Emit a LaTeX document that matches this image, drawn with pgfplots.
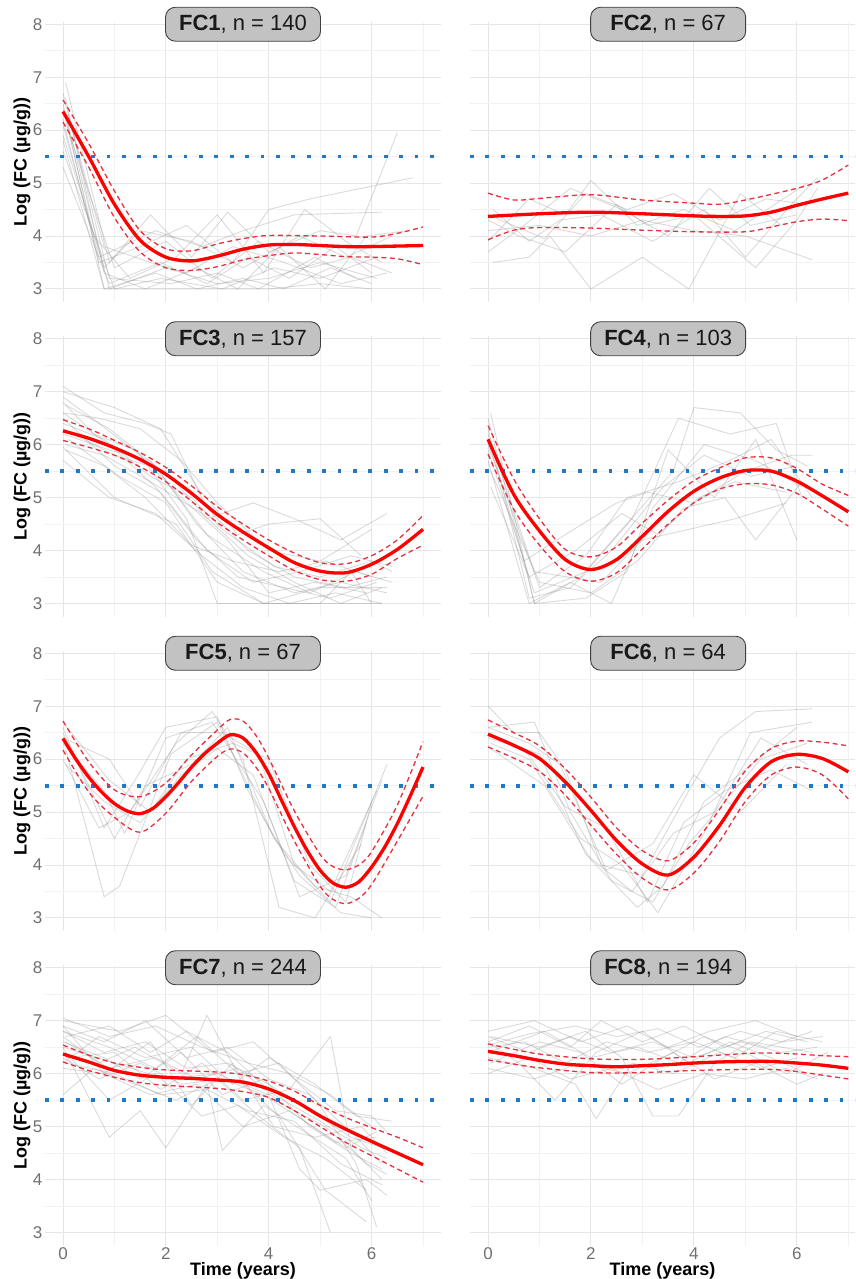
\documentclass[border=0pt]{standalone}
\usepackage{pgfplots}
\pgfplotsset{compat=1.18}
\usepackage{fontspec}
\setmainfont{Liberation Sans}
\definecolor{gridmaj}{HTML}{E6E6E6}
\definecolor{gridmin}{HTML}{F2F2F2}
\definecolor{tickgray}{HTML}{707070}
\definecolor{fcblue}{HTML}{1F78C8}
\definecolor{cired}{HTML}{E8303F}
\definecolor{boxgray}{HTML}{C2C2C2}
\definecolor{linegray}{HTML}{8C8C8C}
\tikzset{titlebox/.style={draw=black!75, line width=0.9pt, fill=boxgray, rounded corners=10pt,
  minimum width=155pt, minimum height=34pt, inner sep=0pt, font=\fontsize{22}{26}\selectfont, text=black!90}}
\pgfplotsset{
 panel/.style={scale only axis, width=396pt, height=280.6pt,
   xmin=-0.35, xmax=7.35, ymin=2.75, ymax=8.05,
   axis line style={draw=none}, tick style={draw=none},
   xtick={0,2,4,6}, ytick={3,4,5,6,7,8},
   minor xtick={1,3,5,7}, minor ytick={3.5,4.5,5.5,6.5,7.5},
   grid=both, major grid style={color=gridmaj, line width=1pt},
   minor grid style={color=gridmin, line width=0.7pt},
   clip mode=individual,
   /pgf/number format/assume math mode=true,
   ticklabel style={font=\fontsize{17}{20}\selectfont, text=tickgray},
   yticklabel style={anchor=east, inner sep=0pt, xshift=-2.5pt},
   xticklabel style={anchor=base, inner sep=0pt, yshift=-13.8pt},
   xlabel style={at={(axis description cs:0.5,0)}, anchor=base, yshift=-30.2pt, inner sep=0pt,
     font=\bfseries\fontsize{18}{21}\selectfont},
   ylabel style={at={(axis description cs:-0.058,0.5)}, anchor=center, inner sep=0pt,
     font=\bfseries\fontsize{18}{21}\selectfont},
 },
 rightcol/.style={width=385pt, xmax=7.13, yticklabels={}},
 gl/.style={color=linegray, draw opacity=0.32, line width=0.9pt},
 mean/.style={color=red, line width=3.3pt, smooth},
 ci/.style={color=cired, line width=1.3pt, dash pattern=on 5pt off 3.5pt, smooth},
 thr/.style={color=fcblue, line width=3.8pt, dash pattern=on 3.8pt off 11.6pt},
}
\begin{document}
\begin{tikzpicture}
\useasboundingbox (0pt,0pt) rectangle (855pt,1279pt);
%================ FC1 ================
\begin{axis}[panel, at={(45pt,976.8pt)}, anchor=south west, xticklabels={}, ylabel={Log (FC (µg/g))}]
\addplot[gl] coordinates {(0,6.5)(0.8,3.0)(1.8,3.3)(2.6,3.0)(3.5,3.2)(4.3,3.0)(5.2,3.4)(6.0,3.1)};
\addplot[gl] coordinates {(0.05,6.9)(0.9,3.5)(1.7,4.4)(2.5,3.6)(3.2,4.45)(4.0,3.7)(5.0,4.1)(5.7,4.0)(6.5,5.95)};
\addplot[gl] coordinates {(0,6.2)(0.7,3.5)(1.5,3.8)(2.4,4.2)(3.3,3.5)(4.0,4.5)(4.8,4.7)(6.8,5.1)};
\addplot[gl] coordinates {(0,5.8)(0.8,3.0)(2.0,3.0)(3.0,3.0)(4.0,3.0)(5.0,3.1)(6.0,3.0)};
\addplot[gl] coordinates {(0.1,6.0)(1.0,3.4)(2.0,3.9)(2.9,3.2)(3.8,3.9)(4.8,3.4)(5.6,3.6)(6.4,3.3)};
\addplot[gl] coordinates {(0,6.4)(0.6,4.0)(1.3,3.2)(2.2,3.6)(3.0,4.4)(3.9,3.3)(4.7,4.5)(5.5,3.9)(6.2,3.5)};
\addplot[gl] coordinates {(0,5.3)(0.9,3.1)(1.9,3.5)(2.8,3.1)(3.6,3.6)(4.4,3.2)(5.3,3.8)(6.0,3.3)};
\addplot[gl] coordinates {(0.05,6.6)(0.8,3.3)(1.6,3.0)(2.6,3.4)(3.4,3.0)(4.2,3.8)(5.1,3.0)(5.9,4.0)(6.7,4.1)};
\addplot[gl] coordinates {(0,6.1)(0.7,3.6)(1.8,4.1)(2.7,3.8)(3.5,4.1)(4.5,4.4)(6.2,4.45)};
\addplot[gl] coordinates {(0,5.6)(1.0,3.0)(1.9,3.2)(3.1,3.0)(4.1,3.4)(5.0,3.2)(6.1,3.6)};
\addplot[gl] coordinates {(0.1,6.3)(0.8,3.8)(1.7,3.5)(2.4,3.3)(3.3,3.8)(4.3,3.5)(5.4,3.1)(6.3,3.3)};
\addplot[gl] coordinates {(0,6.7)(0.9,3.2)(2.1,3.1)(3.0,3.3)(3.8,3.0)(4.9,3.6)(5.7,3.2)};
\addplot[gl] coordinates {(0,5.9)(0.8,3.4)(1.5,4.1)(2.5,3.9)(3.5,3.4)(4.6,4.0)(5.5,3.6)(6.4,4.0)};
\addplot[gl] coordinates {(0.05,6.3)(0.9,3.0)(2.0,3.4)(3.0,3.1)(4.0,3.2)(5.0,3.5)(6.1,3.2)};
\addplot[thr] coordinates {(-0.35,5.5)(7.35,5.5)};
\addplot[ci] coordinates {(0,6.57)(0.5,5.75)(1,4.85)(1.5,4.1)(2,3.76)(2.5,3.72)(3,3.85)(3.5,3.95)(4,4.01)(5,4.0)(6,3.98)(6.5,4.05)(7,4.17)};
\addplot[ci] coordinates {(0,6.15)(0.5,5.3)(1,4.35)(1.5,3.7)(2,3.4)(2.5,3.35)(3,3.42)(3.5,3.55)(4,3.63)(4.5,3.68)(5,3.65)(5.5,3.61)(6,3.6)(6.5,3.57)(7,3.46)};
\addplot[mean] coordinates {(0,6.35)(0.5,5.5)(1,4.6)(1.5,3.92)(2,3.6)(2.5,3.53)(3,3.62)(3.5,3.75)(4,3.83)(4.5,3.84)(5,3.82)(5.5,3.8)(6,3.8)(6.5,3.81)(7,3.82)};
\node[titlebox] at (axis cs:3.5,8) {\textbf{FC1}, n = 140};
\end{axis}
%================ FC2 ================
\begin{axis}[panel, rightcol, at={(470pt,976.8pt)}, anchor=south west, xticklabels={}]
\addplot[gl] coordinates {(0,3.9)(0.8,4.7)(1.5,4.4)(2.0,5.05)(2.9,4.2)(3.8,4.5)(4.8,4.1)(6.2,5.0)};
\addplot[gl] coordinates {(0.1,3.5)(0.8,3.6)(1.2,4.0)(2.0,3.0)(3.0,3.6)(3.9,3.0)(4.9,4.8)(5.7,4.2)};
\addplot[gl] coordinates {(0,4.3)(0.6,4.0)(1.5,3.7)(2.5,4.6)(3.1,4.2)(4.0,4.4)(5.2,3.4)(6.0,4.3)(6.4,4.9)};
\addplot[gl] coordinates {(0,4.1)(1.0,4.2)(2.0,4.0)(3.0,4.3)(4.0,4.1)(5.0,4.0)(6.3,3.55)};
\addplot[gl] coordinates {(0.1,4.5)(0.8,3.9)(1.4,4.3)(2.2,4.4)(3.2,3.9)(4.2,4.5)(5.0,3.6)(5.9,4.6)(6.4,5.1)};
\addplot[gl] coordinates {(0,3.7)(0.7,4.2)(1.6,4.9)(2.6,4.5)(3.5,4.0)(4.3,4.9)(5.1,4.2)(6.0,4.4)};
\addplot[gl] coordinates {(0,4.4)(1.1,3.95)(1.9,4.8)(2.7,4.5)(3.6,4.8)(4.5,4.3)(5.4,4.7)(6.2,4.6)};
\addplot[thr] coordinates {(-0.35,5.5)(7.35,5.5)};
\addplot[ci] coordinates {(0,4.81)(0.5,4.68)(1,4.71)(2,4.78)(3,4.68)(4,4.62)(4.5,4.6)(5,4.68)(6,4.9)(6.5,5.06)(7,5.34)};
\addplot[ci] coordinates {(0,3.93)(0.5,4.11)(1,4.16)(2,4.15)(3,4.11)(4,4.08)(5,4.08)(5.5,4.17)(6,4.27)(6.5,4.32)(7,4.29)};
\addplot[mean] coordinates {(0,4.37)(1,4.42)(2,4.45)(3,4.42)(4,4.38)(4.5,4.37)(5,4.38)(5.5,4.45)(6,4.58)(6.5,4.7)(7,4.81)};
\node[titlebox] at (axis cs:3.5,8) {\textbf{FC2}, n = 67};
\end{axis}
%================ FC3 ================
\begin{axis}[panel, at={(45pt,662.3pt)}, anchor=south west, xticklabels={}, ylabel={Log (FC (µg/g))}]
\addplot[gl] coordinates {(0,7.1)(0.8,6.6)(1.6,6.4)(2.1,6.2)(2.8,4.8)(3.6,4.0)(4.5,3.5)(5.5,3.3)(6.3,3.5)};
\addplot[gl] coordinates {(0,6.9)(0.7,6.4)(1.5,5.8)(2.4,4.6)(3.0,3.0)(4.0,3.0)(5.0,3.0)(6.2,3.0)};
\addplot[gl] coordinates {(0,6.6)(0.9,6.0)(1.8,5.2)(2.6,4.2)(3.4,3.5)(4.3,3.3)(5.2,3.1)(6.1,3.4)};
\addplot[gl] coordinates {(0,6.3)(1.0,5.8)(2.0,5.5)(2.8,4.6)(3.7,4.9)(4.5,4.6)(5.4,4.2)(6.3,4.7)};
\addplot[gl] coordinates {(0.05,5.9)(0.8,5.6)(1.6,5.0)(2.5,4.1)(3.3,3.8)(4.2,3.6)(5.1,3.8)(6.0,3.5)};
\addplot[gl] coordinates {(0,6.8)(0.6,6.2)(1.4,5.9)(2.3,5.0)(3.2,4.2)(4.0,3.2)(4.9,3.4)(5.9,3.2)};
\addplot[gl] coordinates {(0,5.7)(0.9,5.0)(1.8,4.7)(2.7,3.9)(3.5,3.3)(4.4,3.0)(5.3,3.2)(6.2,3.0)};
\addplot[gl] coordinates {(0,7.0)(1.0,6.7)(1.9,6.3)(2.6,5.2)(3.4,4.3)(4.0,4.5)(5.0,4.6)(5.8,3.9)};
\addplot[gl] coordinates {(0,6.4)(0.8,6.1)(1.7,5.4)(2.5,5.0)(3.1,4.4)(4.1,3.7)(5.0,3.5)(6.0,3.8)(6.4,3.6)};
\addplot[gl] coordinates {(0.1,6.1)(1.1,5.4)(2.0,4.9)(2.9,3.6)(3.9,3.0)(5.0,3.3)(6.3,3.3)};
\addplot[gl] coordinates {(0,6.6)(0.7,6.5)(1.5,6.3)(2.3,5.7)(3.0,4.9)(4.0,4.0)(5.0,3.8)(6.0,4.4)};
\addplot[gl] coordinates {(0,6.2)(0.9,5.9)(1.7,5.7)(2.8,4.3)(3.9,3.6)(4.8,3.2)(5.7,3.6)(6.4,3.4)};
\addplot[gl] coordinates {(0,5.95)(1.0,5.0)(2.2,4.5)(3.0,3.4)(3.9,3.0)(5.0,3.0)(5.6,3.6)(6.0,3.0)};
\addplot[gl] coordinates {(0.05,6.75)(0.9,6.3)(1.8,5.6)(2.6,4.5)(3.5,3.6)(4.5,3.2)(5.4,3.4)(6.3,3.2)};
\addplot[gl] coordinates {(0,6.5)(1.0,5.6)(1.9,5.1)(2.8,4.0)(3.7,3.4)(4.6,3.6)(5.6,3.9)(6.4,3.7)};
\addplot[gl] coordinates {(0.05,6.0)(0.8,5.8)(1.7,5.3)(2.7,4.7)(3.6,3.9)(4.5,3.4)(5.4,3.0)(6.2,3.3)};
\addplot[thr] coordinates {(-0.35,5.5)(7.35,5.5)};
\addplot[ci] coordinates {(0,6.47)(0.5,6.3)(1,6.08)(1.5,5.85)(2,5.57)(2.5,5.22)(3,4.83)(3.5,4.5)(4,4.2)(4.5,3.95)(5,3.77)(5.5,3.75)(6,3.9)(6.5,4.2)(7,4.66)};
\addplot[ci] coordinates {(0,6.08)(0.5,5.95)(1,5.8)(1.5,5.58)(2,5.3)(2.5,4.93)(3,4.53)(3.5,4.2)(4,3.9)(4.5,3.62)(5,3.45)(5.5,3.42)(6,3.55)(6.5,3.85)(7,4.1)};
\addplot[mean] coordinates {(0,6.26)(0.5,6.12)(1,5.94)(1.5,5.72)(2,5.44)(2.5,5.08)(3,4.68)(3.5,4.35)(4,4.05)(4.5,3.77)(5,3.61)(5.5,3.58)(6,3.74)(6.5,4.02)(7,4.4)};
\node[titlebox] at (axis cs:3.5,8) {\textbf{FC3}, n = 157};
\end{axis}
%================ FC4 ================
\begin{axis}[panel, rightcol, at={(470pt,662.3pt)}, anchor=south west, xticklabels={}]
\addplot[gl] coordinates {(0.05,6.6)(0.9,3.0)(1.8,3.5)(2.6,4.4)(3.6,5.5)(4.0,6.7)(4.9,6.6)(5.6,5.9)(6.2,5.6)};
\addplot[gl] coordinates {(0,6.3)(0.8,3.1)(1.6,3.3)(2.4,4.0)(3.4,5.2)(4.2,5.8)(5.1,5.4)(6.0,5.6)};
\addplot[gl] coordinates {(0,5.9)(0.9,3.2)(1.9,3.6)(2.8,4.6)(3.7,6.5)(4.7,6.2)(5.6,6.4)(6.1,5.0)};
\addplot[gl] coordinates {(0.05,5.5)(1.0,3.4)(2.0,3.2)(2.9,3.8)(3.8,4.8)(4.6,5.0)(5.2,4.2)(6.1,5.3)};
\addplot[gl] coordinates {(0,6.1)(0.7,3.8)(1.5,4.3)(2.5,4.9)(3.1,5.1)(4.0,4.9)(5.0,5.5)(5.9,5.8)(6.3,5.8)};
\addplot[gl] coordinates {(0,6.5)(0.9,3.0)(1.9,3.1)(2.7,3.6)(3.5,5.9)(4.4,5.0)(5.2,6.1)(6.0,4.2)};
\addplot[gl] coordinates {(0.05,5.2)(0.8,3.5)(1.7,4.0)(2.6,4.7)(3.3,4.3)(4.1,5.0)(4.8,5.3)(5.8,5.1)};
\addplot[gl] coordinates {(0,6.0)(1.0,3.3)(1.9,3.9)(2.7,5.0)(3.7,5.3)(4.7,5.7)(5.5,6.1)(6.3,5.0)};
\addplot[gl] coordinates {(0,6.2)(0.9,3.6)(2.2,3.4)(3.0,4.2)(3.9,4.4)(4.8,4.6)(5.8,4.9)};
\addplot[gl] coordinates {(0,5.7)(0.8,3.0)(1.6,3.4)(2.4,3.0)(3.2,4.8)(4.2,6.0)(5.2,5.7)(6.1,5.2)};
\addplot[thr] coordinates {(-0.35,5.5)(7.35,5.5)};
\addplot[ci] coordinates {(0,6.36)(0.5,5.35)(1,4.6)(1.5,4.02)(2,3.88)(2.5,4.07)(3,4.52)(3.5,4.95)(4,5.32)(4.5,5.56)(5,5.75)(5.5,5.75)(6,5.55)(6.5,5.25)(7,5.04)};
\addplot[ci] coordinates {(0,5.82)(0.5,4.78)(1,4.1)(1.5,3.6)(2,3.42)(2.5,3.58)(3,4.03)(3.5,4.5)(4,4.9)(4.5,5.16)(5,5.26)(5.5,5.24)(6,5.08)(6.5,4.78)(7,4.46)};
\addplot[mean] coordinates {(0,6.1)(0.5,5.06)(1,4.37)(1.5,3.83)(2,3.64)(2.5,3.83)(3,4.27)(3.5,4.74)(4,5.12)(4.5,5.37)(5,5.51)(5.5,5.5)(6,5.31)(6.5,5.03)(7,4.73)};
\node[titlebox] at (axis cs:3.5,8) {\textbf{FC4}, n = 103};
\end{axis}
%================ FC5 ================
\begin{axis}[panel, at={(45pt,347.8pt)}, anchor=south west, xticklabels={}, ylabel={Log (FC (µg/g))}]
\addplot[gl] coordinates {(0,6.6)(0.8,4.7)(1.4,5.6)(2.0,6.6)(3.0,6.8)(3.6,5.4)(4.3,4.2)(5.2,3.3)(6.3,5.9)};
\addplot[gl] coordinates {(0.05,6.2)(0.8,3.4)(1.1,3.6)(2.1,6.1)(3.0,6.7)(4.0,4.7)(4.6,3.8)(5.4,3.1)(6.0,3.0)};
\addplot[gl] coordinates {(0,6.4)(0.9,6.0)(1.5,5.1)(2.3,6.5)(3.1,6.5)(3.8,6.1)(4.5,4.0)(5.2,3.5)(6.1,5.4)};
\addplot[gl] coordinates {(0,6.0)(0.7,4.7)(1.3,5.0)(2.2,6.3)(2.9,6.9)(3.5,6.0)(4.2,3.2)(4.9,3.0)(5.8,4.4)};
\addplot[gl] coordinates {(0,6.5)(1.0,4.5)(1.6,5.5)(2.5,5.9)(3.2,6.6)(4.1,4.5)(4.9,3.6)(5.6,3.4)(6.2,3.0)};
\addplot[gl] coordinates {(0.05,5.9)(0.8,5.2)(1.5,4.8)(2.3,5.7)(3.0,6.2)(3.7,5.7)(4.5,3.7)(5.3,3.2)(5.9,4.8)};
\addplot[gl] coordinates {(0,6.3)(0.8,5.4)(1.2,4.6)(2.0,6.4)(2.9,6.7)(3.9,5.2)(4.6,3.4)(5.5,3.8)(6.2,5.6)};
\addplot[gl] coordinates {(0,6.7)(0.9,5.6)(1.7,5.0)(2.4,6.0)(3.3,6.3)(4.0,6.0)(4.8,4.0)(5.5,3.3)(6.0,5.2)};
\addplot[thr] coordinates {(-0.35,5.5)(7.35,5.5)};
\addplot[ci] coordinates {(0,6.72)(0.5,5.95)(1,5.42)(1.5,5.29)(2,5.55)(2.5,6.08)(3,6.55)(3.25,6.75)(3.5,6.72)(3.75,6.45)(4,6.02)(4.5,5.02)(5,4.2)(5.25,3.97)(5.5,3.91)(5.75,4.0)(6,4.25)(6.5,5.13)(7,6.33)};
\addplot[ci] coordinates {(0,6.17)(0.5,5.38)(1,4.9)(1.5,4.62)(2,4.98)(2.5,5.58)(3,6.05)(3.25,6.19)(3.5,6.12)(3.75,5.85)(4,5.45)(4.5,4.45)(5,3.6)(5.25,3.35)(5.5,3.27)(5.75,3.37)(6,3.63)(6.5,4.45)(7,5.3)};
\addplot[mean] coordinates {(0,6.39)(0.25,6.0)(0.5,5.66)(0.75,5.38)(1,5.16)(1.25,5.02)(1.5,4.97)(1.75,5.07)(2,5.29)(2.25,5.56)(2.5,5.85)(2.75,6.1)(3,6.3)(3.25,6.46)(3.5,6.4)(3.75,6.13)(4,5.73)(4.25,5.22)(4.5,4.72)(4.75,4.27)(5,3.9)(5.25,3.66)(5.5,3.58)(5.75,3.68)(6,3.96)(6.25,4.33)(6.5,4.78)(6.75,5.3)(7,5.85)};
\node[titlebox] at (axis cs:3.5,8) {\textbf{FC5}, n = 67};
\end{axis}
%================ FC6 ================
\begin{axis}[panel, rightcol, at={(470pt,347.8pt)}, anchor=south west, xticklabels={}]
\addplot[gl] coordinates {(0,7.0)(0.5,6.5)(1.0,6.5)(1.5,5.8)(2.2,4.0)(3.0,3.8)(3.9,5.4)(4.5,6.4)(5.2,6.9)(6.3,6.95)};
\addplot[gl] coordinates {(0,6.6)(0.9,6.7)(1.6,5.0)(2.4,3.7)(3.2,3.3)(3.9,4.4)(4.6,5.2)(5.3,6.0)(6.2,6.3)};
\addplot[gl] coordinates {(0.05,6.3)(0.8,6.0)(1.8,4.5)(2.6,4.0)(3.3,3.1)(4.2,4.6)(5.1,6.5)(6.3,6.7)};
\addplot[gl] coordinates {(0,6.4)(1.0,6.1)(1.9,4.2)(2.8,3.5)(3.6,4.6)(4.4,5.0)(5.3,6.4)(6.2,5.9)};
\addplot[gl] coordinates {(0,6.5)(0.7,6.2)(1.5,5.1)(2.3,4.7)(3.1,3.3)(3.8,4.8)(4.6,5.4)(5.5,5.8)(6.3,5.4)};
\addplot[gl] coordinates {(0.05,6.2)(1.1,5.5)(2.0,4.1)(2.9,3.2)(3.4,3.6)(4.2,5.2)(5.0,5.8)(6.0,6.6)};
\addplot[gl] coordinates {(0,6.6)(0.8,6.3)(1.4,5.9)(2.3,3.9)(3.2,4.4)(4.0,5.7)(4.9,5.0)(5.8,5.9)};
\addplot[thr] coordinates {(-0.35,5.5)(7.35,5.5)};
\addplot[ci] coordinates {(0,6.74)(0.5,6.5)(1,6.25)(1.5,5.82)(2,5.28)(2.5,4.7)(3,4.27)(3.5,4.08)(4,4.42)(4.5,5.05)(5,5.78)(5.5,6.2)(6,6.34)(6.5,6.32)(7,6.25)};
\addplot[ci] coordinates {(0,6.23)(0.5,6.02)(1,5.77)(1.5,5.32)(2,4.75)(2.5,4.2)(3,3.75)(3.5,3.53)(4,3.85)(4.5,4.45)(5,5.2)(5.5,5.7)(6,5.85)(6.5,5.7)(7,5.25)};
\addplot[mean] coordinates {(0,6.47)(0.5,6.26)(1,6.01)(1.5,5.57)(2,5.03)(2.5,4.46)(3,4.02)(3.5,3.81)(4,4.15)(4.5,4.75)(5,5.47)(5.5,5.95)(6,6.09)(6.5,6.01)(7,5.76)};
\node[titlebox] at (axis cs:3.5,8) {\textbf{FC6}, n = 64};
\end{axis}
%================ FC7 ================
\begin{axis}[panel, at={(45pt,33.3pt)}, anchor=south west, xlabel={Time (years)}, ylabel={Log (FC (µg/g))}]
\addplot[gl] coordinates {(0,6.9)(0.8,6.6)(1.6,7.0)(2.4,6.3)(3.2,6.5)(4.0,5.9)(4.8,5.6)(5.6,4.9)(6.2,4.3)};
\addplot[gl] coordinates {(0,6.5)(0.9,4.8)(1.5,5.3)(2.0,4.6)(2.8,5.8)(3.1,4.55)(3.9,5.4)(4.7,4.9)(5.5,4.4)(6.0,3.6)};
\addplot[gl] coordinates {(0,6.7)(0.7,6.2)(1.4,6.5)(2.3,6.0)(2.8,7.1)(3.5,5.8)(4.2,5.2)(5.1,3.8)(5.9,3.2)};
\addplot[gl] coordinates {(0.05,6.3)(1.0,6.4)(1.9,5.7)(2.7,6.2)(3.5,5.5)(4.4,5.7)(5.2,6.7)(5.6,4.6)(6.2,4.0)};
\addplot[gl] coordinates {(0,6.1)(0.8,6.0)(1.7,6.6)(2.5,5.4)(3.3,6.2)(4.1,5.0)(4.9,4.8)(5.8,5.0)(6.3,4.5)};
\addplot[gl] coordinates {(0,6.8)(0.9,6.5)(1.8,6.1)(2.6,6.7)(3.4,6.0)(4.2,6.2)(5.0,5.4)(5.7,4.3)(6.1,3.1)};
\addplot[gl] coordinates {(0,5.6)(0.6,6.1)(1.4,5.8)(2.2,5.5)(3.0,5.9)(3.8,5.2)(4.6,4.6)(5.2,3.0)};
\addplot[gl] coordinates {(0,7.0)(1.1,6.8)(2.0,7.1)(2.9,6.4)(3.7,6.6)(4.5,5.9)(5.3,5.3)(6.0,5.2)(6.3,4.9)};
\addplot[gl] coordinates {(0,6.6)(0.8,6.3)(1.5,5.9)(2.3,6.4)(3.1,5.6)(3.9,5.9)(4.8,5.0)(5.6,4.5)(6.2,4.2)};
\addplot[gl] coordinates {(0.05,6.4)(0.9,5.5)(1.8,6.0)(2.7,5.2)(3.4,5.4)(4.3,4.8)(5.1,4.4)(5.9,3.8)};
\addplot[gl] coordinates {(0,6.2)(0.7,6.7)(1.6,6.3)(2.5,6.5)(3.3,5.8)(4.0,6.3)(4.9,5.8)(5.7,5.2)(6.4,5.1)};
\addplot[gl] coordinates {(0,6.9)(0.8,6.0)(1.7,5.6)(2.6,5.8)(3.5,5.0)(4.4,5.3)(5.3,4.7)(6.1,4.8)};
\addplot[gl] coordinates {(0,6.5)(1.0,6.2)(2.0,5.9)(3.0,6.0)(4.0,5.6)(4.6,4.2)(5.0,3.8)(5.9,4.0)(6.3,3.7)};
\addplot[gl] coordinates {(0.05,6.7)(0.9,6.9)(1.7,6.4)(2.4,6.8)(3.2,6.4)(4.1,5.6)(5.0,5.1)(5.8,4.6)(6.3,4.4)};
\addplot[gl] coordinates {(0,6.8)(0.8,6.4)(1.6,6.6)(2.4,6.1)(3.2,6.2)(4.0,5.8)(4.8,5.3)(5.6,4.8)(6.2,4.6)};
\addplot[gl] coordinates {(0.05,6.6)(0.9,6.1)(1.8,6.3)(2.6,5.9)(3.4,6.1)(4.3,5.4)(5.1,5.0)(5.9,4.3)(6.3,4.1)};
\addplot[gl] coordinates {(0,6.3)(0.7,5.9)(1.5,6.2)(2.3,5.8)(3.1,5.9)(3.9,5.6)(4.7,5.1)(5.5,4.6)(6.1,4.9)};
\addplot[gl] coordinates {(0,7.05)(0.9,6.7)(1.8,6.9)(2.7,6.5)(3.6,6.2)(4.4,6.0)(5.2,5.6)(6.0,5.0)};
\addplot[gl] coordinates {(0.05,6.2)(1.0,6.0)(1.9,5.6)(2.8,5.7)(3.6,5.3)(4.5,5.1)(5.4,4.3)(6.2,3.9)};
\addplot[thr] coordinates {(-0.35,5.5)(7.35,5.5)};
\addplot[ci] coordinates {(0,6.54)(0.5,6.35)(1,6.2)(1.5,6.12)(2,6.07)(3,6.03)(3.5,5.98)(4,5.86)(4.5,5.67)(5,5.4)(5.5,5.17)(6,4.98)(6.5,4.8)(7,4.6)};
\addplot[ci] coordinates {(0,6.22)(0.5,6.06)(1,5.93)(1.5,5.83)(2,5.78)(3,5.72)(3.5,5.66)(4,5.55)(4.5,5.3)(5,5.0)(5.5,4.7)(6,4.45)(6.5,4.2)(7,3.95)};
\addplot[mean] coordinates {(0,6.37)(0.5,6.22)(1,6.06)(1.5,5.97)(2,5.93)(2.5,5.91)(3,5.88)(3.5,5.84)(4,5.71)(4.5,5.49)(5,5.2)(5.5,4.95)(6,4.72)(6.5,4.5)(7,4.28)};
\node[titlebox] at (axis cs:3.5,8) {\textbf{FC7}, n = 244};
\end{axis}
%================ FC8 ================
\begin{axis}[panel, rightcol, at={(470pt,33.3pt)}, anchor=south west, xlabel={Time (years)}]
\addplot[gl] coordinates {(0,6.6)(0.8,6.9)(1.6,6.5)(2.2,7.0)(3.0,6.6)(3.8,6.9)(4.6,6.5)(5.4,6.8)(6.2,6.6)};
\addplot[gl] coordinates {(0,6.3)(0.9,6.1)(1.7,5.8)(2.1,5.15)(2.8,6.2)(3.6,6.0)(4.5,6.4)(5.3,6.1)(6.0,6.3)};
\addplot[gl] coordinates {(0.05,6.7)(1.0,6.5)(1.9,6.8)(2.6,6.3)(3.2,5.2)(3.7,5.2)(4.4,6.2)(5.1,6.6)(6.3,6.4)};
\addplot[gl] coordinates {(0,6.5)(0.7,6.6)(1.5,6.2)(2.3,6.6)(3.1,6.4)(4.0,6.6)(4.8,6.3)(5.6,6.8)(6.5,6.6)};
\addplot[gl] coordinates {(0,6.0)(0.8,6.3)(1.6,5.9)(2.4,6.1)(3.3,5.7)(4.2,6.0)(5.0,5.9)(5.8,6.1)(6.4,5.9)};
\addplot[gl] coordinates {(0,6.8)(0.9,7.0)(1.8,6.6)(2.7,6.9)(3.5,6.5)(4.3,6.8)(5.2,7.0)(6.0,6.7)};
\addplot[gl] coordinates {(0.05,6.2)(1.0,6.6)(1.8,6.4)(2.6,5.8)(3.4,6.3)(4.2,6.7)(5.0,6.4)(5.8,6.0)(6.6,6.4)};
\addplot[gl] coordinates {(0,6.6)(0.6,6.2)(1.3,5.5)(2.1,6.4)(3.0,6.8)(3.9,6.2)(4.7,6.6)(5.5,6.3)(6.2,6.0)};
\addplot[gl] coordinates {(0,6.4)(1.1,6.8)(2.0,6.3)(2.9,6.5)(3.7,6.2)(4.6,6.7)(5.4,6.5)(6.3,6.8)};
\addplot[gl] coordinates {(0.05,6.55)(0.8,6.75)(1.7,6.9)(2.5,6.7)(3.3,6.85)(4.1,6.5)(4.9,6.8)(5.7,6.6)(6.5,6.7)};
\addplot[gl] coordinates {(0,6.1)(0.9,5.9)(1.8,6.2)(2.7,6.0)(3.6,6.4)(4.4,5.9)(5.2,6.2)(6.0,5.8)(6.5,6.0)};
\addplot[gl] coordinates {(0,6.7)(0.8,6.4)(1.6,6.7)(2.4,6.4)(3.2,6.6)(4.0,6.3)(4.9,6.6)(5.7,6.4)(6.4,6.5)};
\addplot[thr] coordinates {(-0.35,5.5)(7.35,5.5)};
\addplot[ci] coordinates {(0,6.56)(0.5,6.46)(1,6.37)(2,6.28)(3,6.27)(4,6.32)(5,6.38)(5.5,6.39)(6,6.37)(6.5,6.34)(7,6.32)};
\addplot[ci] coordinates {(0,6.26)(0.5,6.18)(1,6.11)(2,6.02)(3,6.02)(4,6.06)(5,6.08)(5.5,6.08)(6,6.04)(6.5,5.97)(7,5.9)};
\addplot[mean] coordinates {(0,6.42)(0.5,6.34)(1,6.25)(1.5,6.18)(2,6.15)(2.5,6.13)(3,6.15)(3.5,6.17)(4,6.2)(4.5,6.22)(5,6.23)(5.5,6.23)(6,6.2)(6.5,6.16)(7,6.1)};
\node[titlebox] at (axis cs:3.5,8) {\textbf{FC8}, n = 194};
\end{axis}
\end{tikzpicture}
\end{document}
